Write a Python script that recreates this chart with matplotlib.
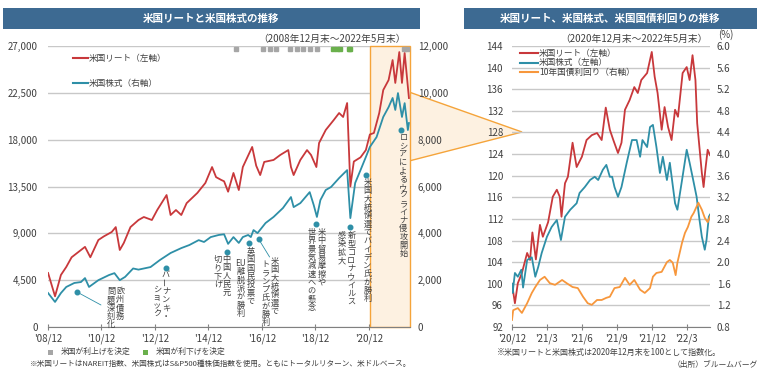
import numpy as np
import matplotlib.pyplot as plt
from matplotlib.lines import Line2D
from matplotlib.patches import Polygon, Rectangle
from matplotlib.transforms import blended_transform_factory

plt.rcParams['font.family'] = ['Noto Sans CJK JP', 'DejaVu Sans']

# ---------------- data ----------------
# left chart: decimal years, REIT (left axis) and S&P500 (right axis)
reit_years = [2008.92, 2009.0, 2009.18, 2009.4, 2009.6, 2009.8, 2010.0, 2010.3, 2010.5, 2010.8,
              2011.0, 2011.3, 2011.45, 2011.6, 2011.75, 2012.0, 2012.3, 2012.5, 2012.8, 2013.0,
              2013.35, 2013.5, 2013.7, 2013.9, 2014.1, 2014.5, 2014.8, 2015.05, 2015.2, 2015.4,
              2015.5, 2015.65, 2015.85, 2016.05, 2016.2, 2016.55, 2016.7, 2016.85, 2017.0, 2017.35,
              2017.6, 2017.9, 2018.0, 2018.1, 2018.35, 2018.6, 2018.75, 2018.95, 2019.05, 2019.3,
              2019.6, 2019.8, 2019.95, 2020.1, 2020.22, 2020.35, 2020.6, 2020.8, 2020.95, 2021.1,
              2021.3, 2021.45, 2021.65, 2021.8, 2021.9, 2022.05, 2022.15, 2022.25, 2022.41]
reit_vals = [5190, 4500, 2950, 5000, 5770, 6700, 7100, 7700, 6700, 8360,
             8700, 9130, 9600, 7400, 8070, 9600, 10280, 10570, 10280, 11240,
             12680, 10760, 11240, 10760, 11900, 12880, 13840, 15370, 14400, 14120,
             14000, 13000, 14800, 13160, 15370, 17300, 15500, 14600, 15860, 16050,
             16530, 17000, 15370, 14600, 16050, 17000, 16530, 15370, 17680, 18930,
             19890, 20560, 20180, 21520, 13500, 15900, 16300, 17000, 18500, 18640,
             20560, 22770, 23730, 25650, 23450, 26420, 23450, 26330, 22000]

spx_years = [2008.92, 2009.18, 2009.4, 2009.6, 2009.9, 2010.15, 2010.3, 2010.45, 2010.8, 2011.2,
             2011.4, 2011.6, 2011.8, 2012.1, 2012.3, 2012.75, 2013.1, 2013.5, 2013.9, 2014.2,
             2014.55, 2014.75, 2015.0, 2015.3, 2015.5, 2015.65, 2015.85, 2016.05, 2016.2, 2016.4,
             2016.5, 2016.6, 2016.75, 2017.05, 2017.35, 2017.7, 2018.0, 2018.1, 2018.35, 2018.7,
             2018.85, 2018.97, 2019.1, 2019.3, 2019.5, 2019.8, 2020.1, 2020.22, 2020.4, 2020.6,
             2020.8, 2020.95, 2021.2, 2021.45, 2021.65, 2021.8, 2021.9, 2022.0, 2022.15, 2022.25,
             2022.37, 2022.41]
spx_vals = [1450, 1070, 1450, 1710, 1880, 1920, 2090, 1710, 2000, 2220,
            2300, 2000, 2140, 2500, 2450, 2560, 2860, 3160, 3370, 3500,
            3710, 3630, 3840, 3930, 3960, 3550, 3840, 3590, 3840, 3930,
            3840, 4140, 4010, 4440, 4700, 5080, 5550, 5120, 5290, 5760,
            5210, 4700, 5420, 5850, 5980, 6360, 6700, 4650, 6150, 6700,
            7260, 7690, 8110, 8970, 9390, 9780, 9270, 9990, 8970, 9560,
            8410, 8710]

hike_dates = [2015.96, 2016.95, 2017.2, 2017.45, 2017.95, 2018.22, 2018.45, 2018.73, 2018.97,
              2022.21, 2022.34]
cut_dates = [2019.58, 2019.71, 2019.83, 2020.17, 2020.2]

left_xticks = [2008.917, 2010.917, 2012.917, 2014.917, 2016.917, 2018.917, 2020.917]
left_xlabels = ["'08/12", "'10/12", "'12/12", "'14/12", "'16/12", "'18/12", "'20/12"]

# right chart: months after the end of Dec 2020
r_reit_m = [0.0, 0.25, 0.5, 0.85, 1.3, 1.55, 1.75, 2.05, 2.4, 2.65, 3.1, 3.5, 3.85, 4.1, 4.25,
            4.55, 4.8, 5.2, 5.55, 6.0, 6.4, 6.85, 7.3, 7.7, 8.05, 8.4, 8.7, 9.1, 9.4, 9.7,
            10.1, 10.5, 10.8, 11.1, 11.6, 12.0, 12.25, 12.5, 12.85, 13.1, 13.4, 13.7, 14.0, 14.25,
            14.65, 15.0, 15.25, 15.5, 15.75, 15.9, 16.3, 16.45, 16.6, 16.8, 17.0]
r_reit_v = [100.0, 96.4, 100.1, 102.0, 105.7, 104.4, 109.5, 104.5, 110.9, 108.7, 111.4, 116.1, 117.4, 116.1, 112.4,
            118.6, 119.8, 126.1, 121.6, 123.5, 126.6, 127.5, 127.9, 126.6, 132.6, 128.5, 126.6, 124.2, 126.1, 132.2,
            134.0, 136.4, 135.3, 137.7, 139.0, 142.9, 138.3, 135.3, 128.5, 132.7, 129.0, 126.6, 132.2, 130.9,
            139.0, 140.1, 137.7, 142.3, 137.7, 129.7, 120.5, 117.9, 121.1, 124.8, 123.8]

r_spx_m = [0.0, 0.05, 0.25, 0.5, 0.8, 0.95, 1.3, 1.7, 2.0, 2.25, 2.55, 3.0, 3.4, 3.85, 4.2,
           4.55, 5.0, 5.55, 5.8, 6.25, 6.7, 7.1, 7.4, 7.8, 8.1, 8.4, 8.6, 8.8, 9.1, 9.4,
           9.85, 10.3, 10.7, 11.0, 11.2, 11.6, 11.85, 12.1, 12.4, 12.7, 12.95, 13.3, 13.55, 14.0,
           14.2, 14.6, 15.0, 15.25, 15.5, 15.85, 16.1, 16.3, 16.55, 16.7, 16.9, 17.0]
r_spx_v = [100.0, 98.3, 102.0, 101.3, 102.6, 99.3, 104.4, 104.9, 101.3, 103.1, 105.7, 108.7, 110.5, 111.8, 108.1,
           112.4, 113.7, 114.9, 116.8, 117.9, 119.2, 119.8, 119.2, 121.1, 122.0, 119.8, 119.8, 117.9, 116.1, 117.9,
           122.4, 126.6, 126.6, 123.5, 126.6, 125.3, 129.0, 129.4, 125.3, 120.5, 123.5, 119.2, 122.4, 114.9,
           113.7, 119.2, 124.8, 122.4, 119.8, 116.1, 111.8, 108.7, 106.3, 108.1, 112.4, 112.8]

yld_m = [0.0, 0.1, 0.5, 0.85, 1.3, 1.7, 2.0, 2.4, 2.8, 3.25, 3.7, 4.3, 4.7, 5.2, 5.65,
         6.1, 6.5, 6.85, 7.3, 7.7, 8.1, 8.4, 8.8, 9.25, 9.7, 10.1, 10.5, 11.0, 11.4, 11.85,
         12.1, 12.4, 12.85, 13.3, 13.55, 13.8, 14.05, 14.2, 14.6, 14.85, 15.1, 15.4, 15.6, 16.0,
         16.3, 16.55, 16.8, 17.0]
yld_v = [0.93, 1.11, 1.15, 1.06, 1.24, 1.43, 1.54, 1.67, 1.73, 1.61, 1.58, 1.67, 1.61, 1.54, 1.52,
         1.36, 1.24, 1.21, 1.30, 1.30, 1.34, 1.36, 1.52, 1.54, 1.71, 1.58, 1.67, 1.49, 1.43, 1.52,
         1.73, 1.80, 1.82, 2.00, 2.04, 1.99, 1.76, 1.99, 2.36, 2.54, 2.65, 2.84, 2.91, 3.10,
         2.97, 2.82, 2.74, 2.84]

right_xticks = [0, 3, 6, 9, 12, 15]
right_xlabels = ["'20/12", "'21/3", "'21/6", "'21/9", "'21/12", "'22/3"]

# event annotations: (year, S&P value, [(dx px, dy px, column text)], leader end or None)
events = [
    (2010.0, 1495, [(43, -1, '欧州債務'), (34, -1, '問題深刻化')], (24, 13)),
    (2013.32, 2519, [(0, 6, 'バーナンキ・'), (-9, 21, 'ショック')], None),
    (2015.6, 3203, [(0, 7, '中国人民元'), (-9, 7, '切り下げ')], None),
    (2016.42, 3587, [(2, 8, '英国国民投票で'), (-8, 20, 'EU離脱派が勝利')], None),
    (2016.79, 3758, [(16, 22, '米国大統領選で'), (7, 25, 'トランプ氏が勝利')], (11, 18)),
    (2018.95, 4398, [(5, 8, '米中貿易摩擦や'), (-5, 8, '世界景気減速への懸念')], None),
    (2020.22, 4270, [(1, 8, '新型コロナウイルス'), (-9, 8, '感染拡大')], None),
    (2020.82, 6490, [(1, 7, '米国大統領選でバイデン氏が勝利')], None),
    (2022.13, 8412, [(2, 7, 'ロシアによるウクライナ侵攻開始')], None),
]

# ---------------- styling ----------------
RED = '#c8383b'
TEAL = '#2e8fa7'
ORANGE = '#f7973c'
GRID = '#c8c8c8'
TXT = '#404040'
BANNER = '#3d6a92'
PEACH = '#fdf1e1'
EDGE = '#f5a43a'

W, H = 763, 371
fig = plt.figure(figsize=(W / 100, H / 100), dpi=100)


def rect(x0, y0, x1, y1):
    return [x0 / W, 1 - y1 / H, (x1 - x0) / W, (y1 - y0) / H]


def fxy(x, y):
    return x / W, 1 - y / H


def style_axes(a, b):
    for s in a.spines.values():
        s.set_visible(False)
    for s in b.spines.values():
        s.set_visible(False)
    a.spines['bottom'].set_visible(True)
    a.spines['bottom'].set_color('#808080')
    a.set_facecolor('none')
    a.grid(axis='y', color=GRID, lw=1)
    a.set_axisbelow(True)
    a.tick_params(axis='y', length=0, labelsize=7, colors=TXT, pad=7.5)
    b.tick_params(axis='y', length=0, labelsize=7, colors=TXT, pad=5.5)
    a.tick_params(axis='x', direction='inout', length=4, color='#808080',
                  labelsize=7, labelcolor=TXT, pad=3)


# banners
for x0, x1, title in [(3, 420, '米国リートと米国株式の推移'),
                      (464, 757, '米国リート、米国株式、米国国債利回りの推移')]:
    fig.add_artist(Rectangle(fxy(x0, 29), (x1 - x0) / W, 21 / H, transform=fig.transFigure,
                             facecolor=BANNER, edgecolor='none'))
    fig.text(*fxy((x0 + x1) / 2, 18.5), title, color='white', fontsize=7.6,
             fontweight='bold', ha='center', va='center')

# ---------------- left chart ----------------
ax = fig.add_axes(rect(48, 46, 410, 327))
ax2 = ax.twinx()
ax.set_xlim(2008.917, 2022.45)
ax.set_ylim(0, 27000)
ax2.set_ylim(0, 12000)
ax.set_yticks(np.arange(0, 27001, 4500))
ax.set_yticklabels([f'{v:,}' for v in range(0, 27001, 4500)])
ax2.set_yticks(np.arange(0, 12001, 2000))
ax2.set_yticklabels([f'{v:,}' for v in range(0, 12001, 2000)])
ax.set_xticks(left_xticks)
ax.set_xticklabels(left_xlabels)
style_axes(ax, ax2)

ax.axvspan(2020.95, 2022.45, facecolor=PEACH, edgecolor=EDGE, lw=1, zorder=0.8, clip_on=False)
ax.plot(reit_years, reit_vals, color=RED, lw=1.3, zorder=2)
ax2.plot(spx_years, spx_vals, color=TEAL, lw=1.3, zorder=2)

top = blended_transform_factory(ax.transData, ax.transAxes)
ax.plot(hike_dates, [0.99] * len(hike_dates), 's', ms=2.9, color='#a6a6a6',
        transform=top, clip_on=False, zorder=3)
ax.plot(cut_dates, [0.99] * len(cut_dates), 's', ms=2.9, color='#6ab04c',
        transform=top, clip_on=False, zorder=3)

PITCH = 8.3
FS = 5.9


def cells(text):
    out, buf = [], ''
    for ch in text:
        if ch.isascii() and ch.isalpha():
            buf += ch
            continue
        if buf:
            out.append(buf)
            buf = ''
        out.append(ch)
    if buf:
        out.append(buf)
    return out


for yr, val, cols, lead in events:
    ax2.plot(yr, val, 'o', ms=3.3, color=TEAL, zorder=4)
    if lead:
        ax2.annotate('', xy=(yr, val), xytext=(lead[0] * 0.72, -lead[1] * 0.72),
                     textcoords='offset points',
                     arrowprops=dict(arrowstyle='-', color=TEAL, lw=0.6, shrinkA=0, shrinkB=0))
    for dx, dy, text in cols:
        for i, c in enumerate(cells(text)):
            cx = dx * 0.72
            cy = -(dy + i * PITCH) * 0.72
            if c == 'ー':
                ax2.annotate(c, xy=(yr, val), xytext=(cx, cy), textcoords='offset points',
                             ha='center', va='center', rotation=90, fontsize=FS, color=TXT, zorder=5)
            else:
                ax2.annotate(c, xy=(yr, val), xytext=(cx, cy - 0.38 * FS),
                             textcoords='offset points', ha='center', va='baseline',
                             fontsize=FS, color=TXT, zorder=5)

# left legend
for y, col, lab in [(58, RED, '米国リート（左軸）'), (83, TEAL, '米国株式（右軸）')]:
    fig.add_artist(Line2D([73 / W, 88 / W], [1 - y / H] * 2, color=col, lw=1.5))
    fig.text(*fxy(89, y), lab, fontsize=6.2, color=TXT, va='center')

fig.text(*fxy(406, 39), '（2008年12月末～2022年5月末）', fontsize=7, color=TXT,
         ha='right', va='center')

# funnel connecting the highlighted period to the right chart
fig.add_artist(Polygon([fxy(409, 92), fxy(522, 132), fxy(409, 161)], closed=True,
                       transform=fig.transFigure, facecolor=PEACH, edgecolor=EDGE,
                       lw=1, zorder=-1))

# ---------------- right chart ----------------
bx = fig.add_axes(rect(512, 46, 710, 327))
bx2 = bx.twinx()
bx.set_xlim(0, 17)
bx.set_ylim(92, 144)
bx2.set_ylim(0.8, 6.0)
bx.set_yticks(np.arange(92, 145, 4))
bx2.set_yticks(np.round(np.arange(0.8, 6.01, 0.4), 1))
bx2.set_yticklabels([f'{v:.1f}' for v in np.arange(0.8, 6.01, 0.4)])
bx.set_xticks(right_xticks)
bx.set_xticklabels(right_xlabels)
style_axes(bx, bx2)
bx.tick_params(axis='y', pad=6.5)
bx2.tick_params(axis='y', pad=5)

bx.plot(r_reit_m, r_reit_v, color=RED, lw=1.3, zorder=2)
bx.plot(r_spx_m, r_spx_v, color=TEAL, lw=1.3, zorder=2)
bx2.plot(yld_m, yld_v, color=ORANGE, lw=1.3, zorder=2)

for y, col, lab in [(53, RED, '米国リート（左軸）'), (62.5, TEAL, '米国株式（左軸）'),
                    (72, ORANGE, '10年国債利回り（右軸）')]:
    fig.add_artist(Line2D([520 / W, 538 / W], [1 - y / H] * 2, color=col, lw=1.5))
    fig.text(*fxy(539, y), lab, fontsize=6.2, color=TXT, va='center')

fig.text(*fxy(708, 39), '（2020年12月末～2022年5月末）', fontsize=7, color=TXT,
         ha='right', va='center')
fig.text(*fxy(726, 35), '(%)', fontsize=7, color=TXT, ha='center', va='center')

# ---------------- footer ----------------
for x, col, lab in [(50, '#a6a6a6', '米国が利上げを決定'), (145, '#6ab04c', '米国が利下げを決定')]:
    fig.add_artist(Rectangle(fxy(x - 2.5, 354.5), 5 / W, 5 / H, transform=fig.transFigure,
                             facecolor=col, edgecolor='none'))
    fig.text(*fxy(x + 11, 352), lab, fontsize=5.6, color=TXT, va='center')

fig.text(*fxy(30, 364), '※米国リートはNAREIT指数、米国株式はS&P500種株価指数を使用。ともにトータルリターン、米ドルベース。',
         fontsize=5.5, color=TXT, va='center')
fig.text(*fxy(497, 352), '※米国リートと米国株式は2020年12月末を100として指数化。',
         fontsize=5.8, color=TXT, va='center')
fig.text(*fxy(758, 365), '（出所）ブルームバーグ', fontsize=5.6, color=TXT, ha='right', va='center')

fig.savefig('out.png', dpi=100)
